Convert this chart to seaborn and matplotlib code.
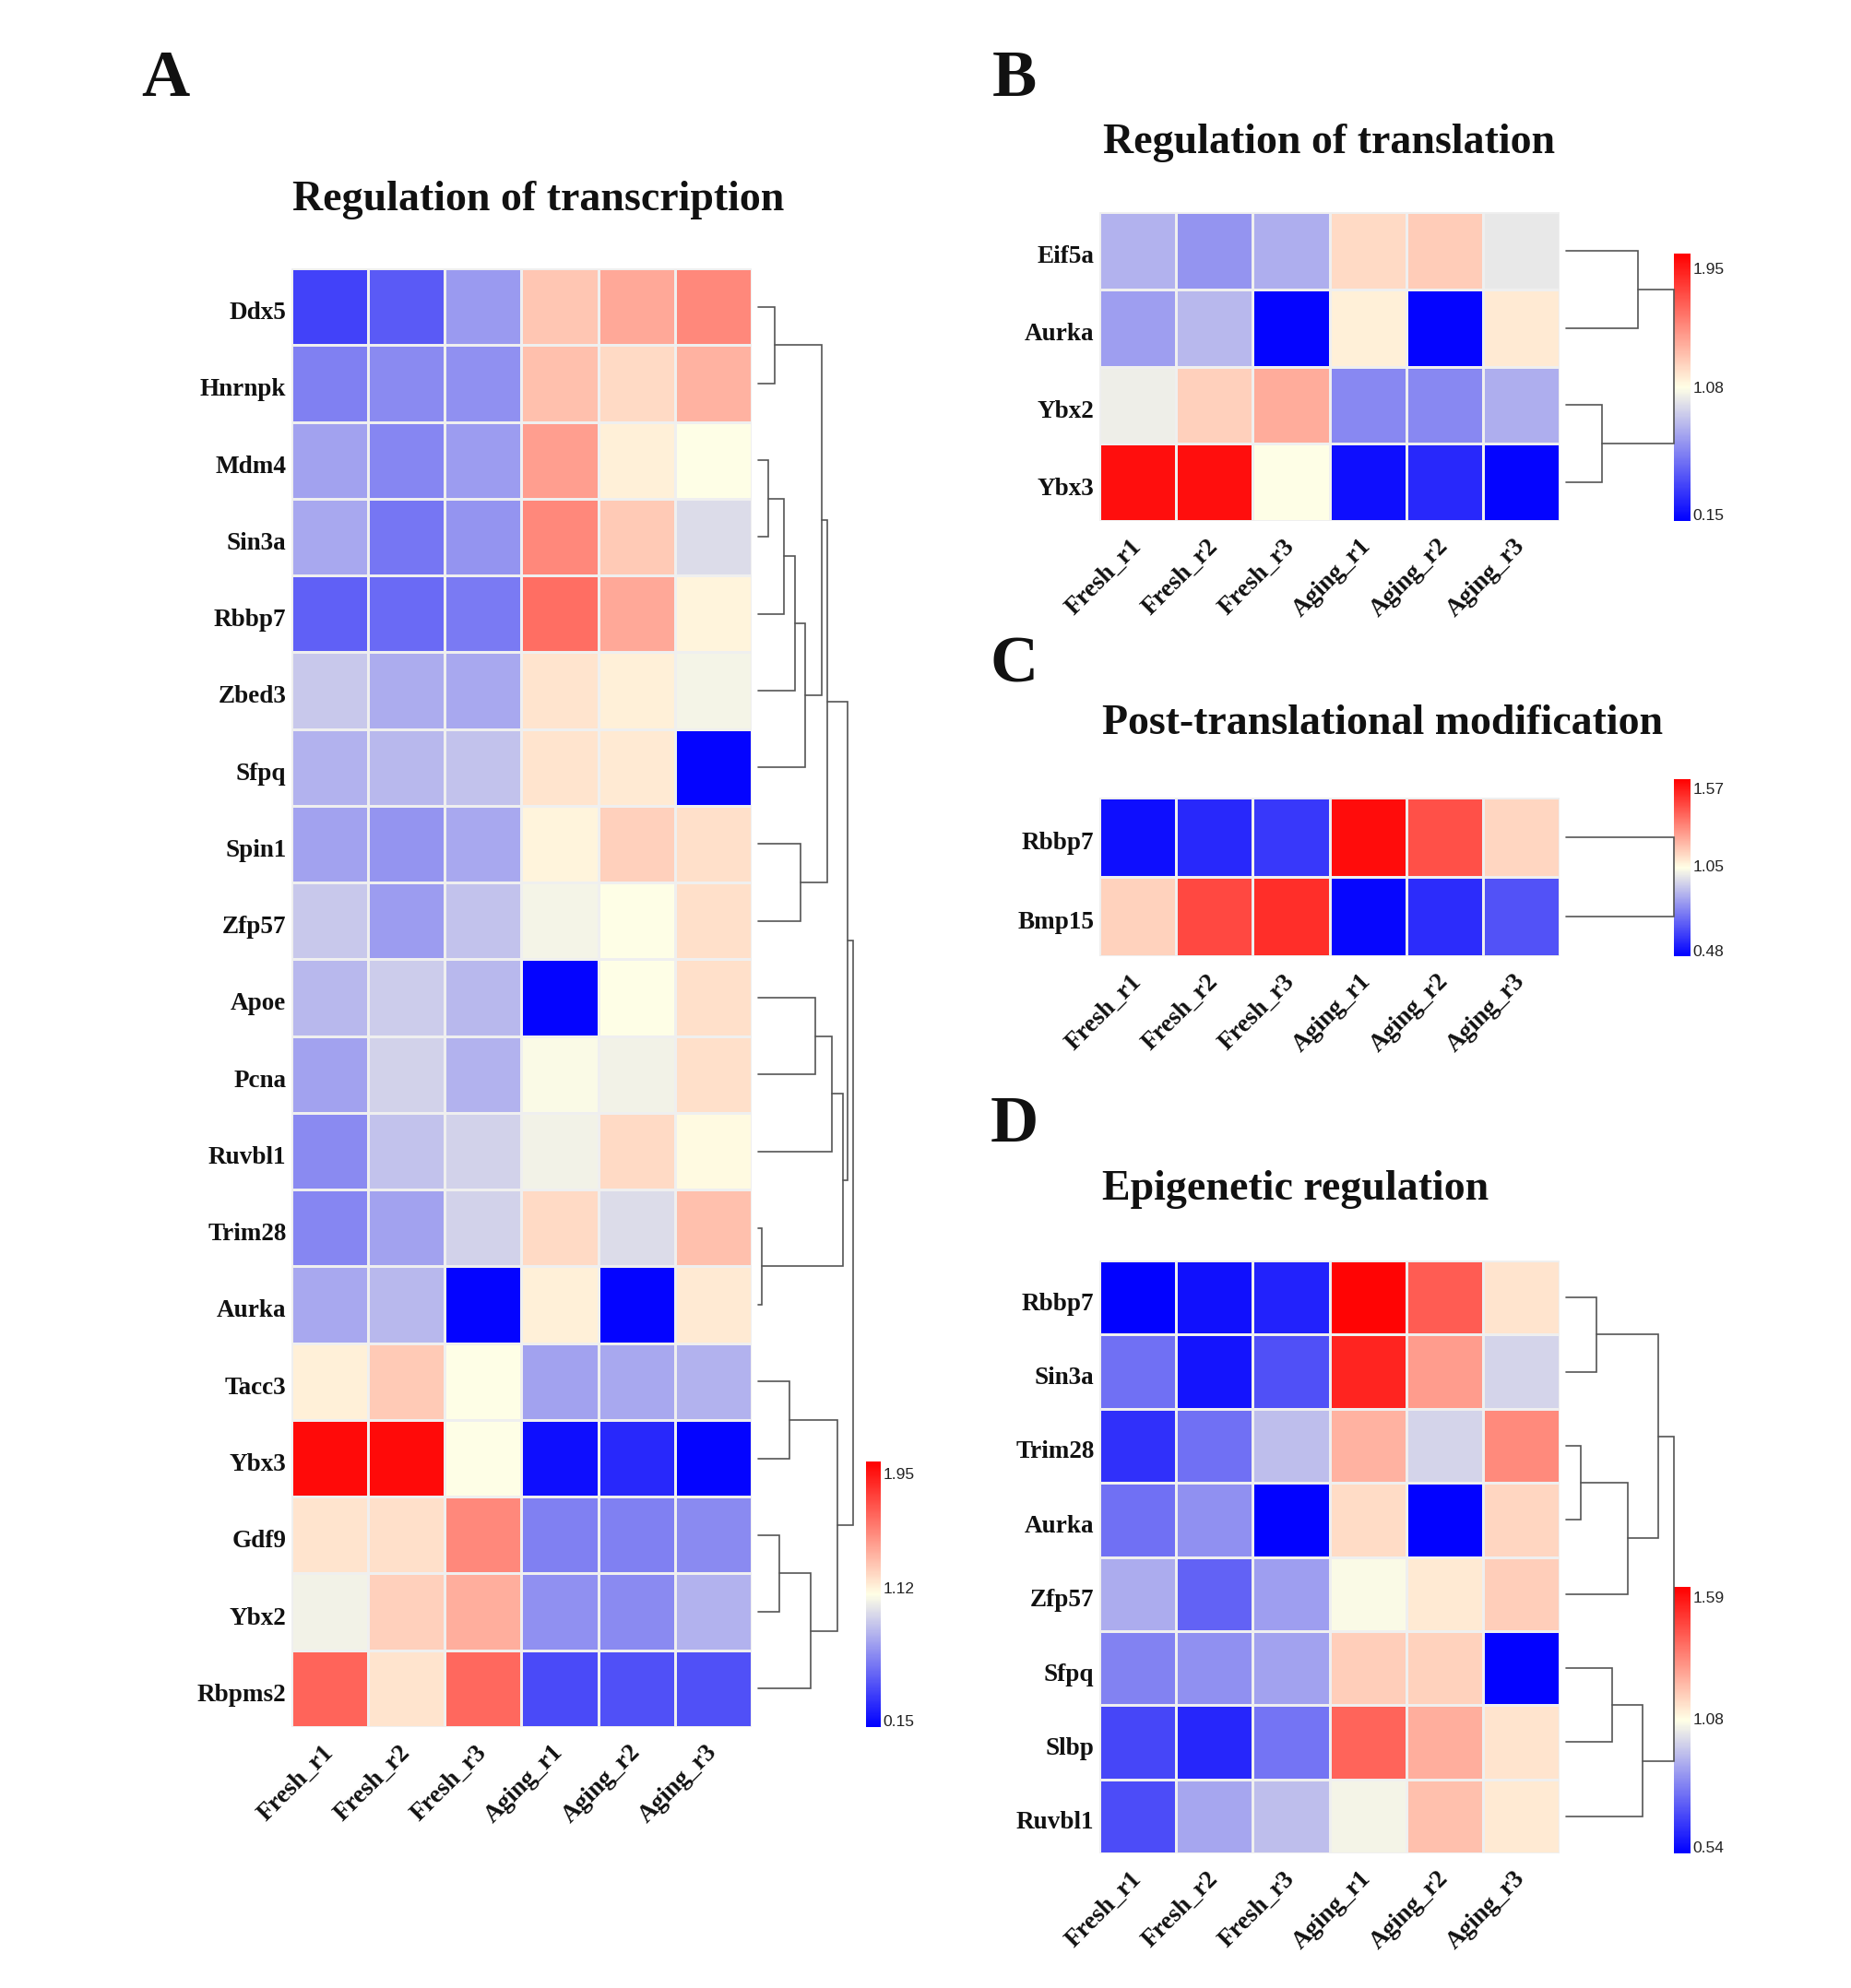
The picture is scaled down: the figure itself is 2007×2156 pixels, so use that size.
import numpy as np
import pandas as pd
import matplotlib
matplotlib.use("Agg")
import matplotlib.pyplot as plt
import matplotlib.transforms as mtransforms
from matplotlib.colors import LinearSegmentedColormap
import seaborn as sns

# ---------------- data ----------------
samples = ["Fresh_r1", "Fresh_r2", "Fresh_r3", "Aging_r1", "Aging_r2", "Aging_r3"]

genes_a = ["Ddx5", "Hnrnpk", "Mdm4", "Sin3a", "Rbbp7", "Zbed3", "Sfpq", "Spin1", "Zfp57",
           "Apoe", "Pcna", "Ruvbl1", "Trim28", "Aurka", "Tacc3", "Ybx3", "Gdf9", "Ybx2", "Rbpms2"]
values_a = [
    [0.36, 0.45, 0.69, 1.29, 1.40, 1.52],
    [0.59, 0.63, 0.65, 1.31, 1.21, 1.36],
    [0.72, 0.61, 0.70, 1.44, 1.13, 1.07],
    [0.74, 0.55, 0.67, 1.52, 1.27, 0.94],
    [0.47, 0.51, 0.57, 1.62, 1.40, 1.11],
    [0.86, 0.76, 0.74, 1.17, 1.13, 1.03],
    [0.78, 0.80, 0.84, 1.17, 1.15, 0.12],
    [0.72, 0.67, 0.74, 1.11, 1.25, 1.19],
    [0.86, 0.70, 0.84, 1.03, 1.07, 1.19],
    [0.80, 0.88, 0.80, 0.12, 1.07, 1.19],
    [0.72, 0.90, 0.78, 1.05, 1.02, 1.19],
    [0.63, 0.84, 0.90, 1.02, 1.21, 1.09],
    [0.61, 0.72, 0.90, 1.21, 0.94, 1.31],
    [0.74, 0.80, 0.12, 1.13, 0.12, 1.15],
    [1.13, 1.27, 1.07, 0.72, 0.74, 0.78],
    [2.00, 2.00, 1.07, 0.16, 0.26, 0.12],
    [1.17, 1.19, 1.52, 0.59, 0.59, 0.63],
    [1.02, 1.25, 1.38, 0.65, 0.63, 0.78],
    [1.66, 1.17, 1.64, 0.39, 0.41, 0.41],
]
# linkage: (left, right, height) scipy-style node ids
link_a = [(0, 1, 53), (2, 3, 32), (20, 4, 85), (21, 5, 120), (22, 6, 153), (19, 23, 207),
          (7, 8, 138), (24, 25, 225), (9, 10, 188), (27, 11, 240), (12, 13, 13), (28, 29, 277),
          (26, 30, 292), (14, 15, 103), (16, 17, 68), (33, 18, 172), (32, 34, 260), (31, 35, 310)]
ticks_a = [0.15, 1.12, 1.95]
range_a = (0.103, 2.04)

genes_b = ["Eif5a", "Aurka", "Ybx2", "Ybx3"]
values_b = [
    [0.79, 0.67, 0.77, 1.22, 1.28, 0.99],
    [0.71, 0.81, 0.12, 1.14, 0.12, 1.16],
    [1.02, 1.26, 1.40, 0.63, 0.63, 0.77],
    [2.00, 2.00, 1.08, 0.16, 0.26, 0.12],
]
link_b = [(0, 1, 232), (2, 3, 115), (4, 5, 348)]
ticks_b = [0.15, 1.08, 1.95]
range_b = (0.103, 2.06)

genes_c = ["Rbbp7", "Bmp15"]
values_c = [
    [0.48, 0.54, 0.58, 1.60, 1.44, 1.13],
    [1.14, 1.46, 1.52, 0.46, 0.55, 0.64],
]
link_c = [(0, 1, 345)]
ticks_c = [0.48, 1.05, 1.57]
range_c = (0.446, 1.629)

genes_d = ["Rbbp7", "Sin3a", "Trim28", "Aurka", "Zfp57", "Sfpq", "Slbp", "Ruvbl1"]
values_d = [
    [0.52, 0.55, 0.59, 1.62, 1.43, 1.13],
    [0.76, 0.56, 0.69, 1.55, 1.29, 0.98],
    [0.62, 0.76, 0.93, 1.24, 0.98, 1.33],
    [0.76, 0.83, 0.52, 1.15, 0.52, 1.16],
    [0.89, 0.73, 0.86, 1.06, 1.12, 1.18],
    [0.80, 0.83, 0.87, 1.18, 1.17, 0.52],
    [0.67, 0.60, 0.77, 1.41, 1.25, 1.13],
    [0.68, 0.88, 0.93, 1.05, 1.21, 1.12],
]
link_d = [(0, 1, 98), (2, 3, 47), (9, 4, 197), (8, 10, 295), (5, 6, 147), (12, 7, 245), (11, 13, 345)]
ticks_d = [0.54, 1.08, 1.59]
range_d = (0.513, 1.632)

# ---------------- style ----------------
sns.set_theme(style="white")
plt.rcParams["font.family"] = ["Liberation Serif", "DejaVu Serif"]

W, H = 2008, 2156
DPI = 100
fig = plt.figure(figsize=(W / DPI, H / DPI), dpi=DPI)
fig.patch.set_facecolor("white")

cmap = LinearSegmentedColormap.from_list("bwr_pheat", ["#0000FF", "#FFFFE6", "#FF0000"], N=256)


def ax_px(x0, y0, x1, y1):
    return fig.add_axes([x0 / W, 1 - y1 / H, (x1 - x0) / W, (y1 - y0) / H])


def draw_dendro(ax, links, n):
    pos = {i: (0.0, i + 0.5) for i in range(n)}
    for k, (a, b, h) in enumerate(links):
        xa, ya = pos[a]
        xb, yb = pos[b]
        ax.plot([xa, h, h, xb], [ya, ya, yb, yb], color="#555555", lw=1.2,
                solid_joinstyle="miter", clip_on=False)
        pos[n + k] = (h, (ya + yb) / 2)
    root_h = links[-1][2]
    ax.set_xlim(0, root_h)
    ax.set_ylim(n, 0)
    ax.axis("off")


def panel(values, genes, links, ticks, vrange, box, dbox, cbox):
    df = pd.DataFrame(values, index=genes, columns=samples)
    ax = ax_px(*box)
    cax = ax_px(*cbox)
    sns.heatmap(df, ax=ax, cmap=cmap, vmin=vrange[0], vmax=vrange[1],
                linewidths=1.0, linecolor="#EFEFEF", cbar_ax=cax,
                cbar_kws={"ticks": ticks})
    ax.tick_params(axis="both", length=0, pad=4)
    ax.set_yticklabels(genes, rotation=0, fontsize=19.5, fontweight="bold", color="#111111")
    ax.set_xticklabels(samples, rotation=45, ha="right", va="center",
                       rotation_mode="anchor", fontsize=19.5, fontweight="bold", color="#111111")
    ax.tick_params(axis="x", pad=17)
    shift = mtransforms.ScaledTranslation(0, -5 / 72, fig.dpi_scale_trans)
    for lab in ax.get_yticklabels():
        lab.set_transform(lab.get_transform() + shift)
    ax.set_xlabel("")
    ax.set_ylabel("")
    cb = ax.collections[0].colorbar
    cb.outline.set_visible(False)
    cb.ax.tick_params(length=0, pad=2)
    cb.ax.set_yticklabels([f"{t:.2f}" for t in ticks], fontsize=12.5,
                          family=["Liberation Sans", "DejaVu Sans"], color="#222222")
    dax = ax_px(*dbox)
    draw_dendro(dax, links, len(genes))
    return ax


panel(values_a, genes_a, link_a, ticks_a, range_a,
      (316, 291, 815, 1873), (822, 291, 925, 1873), (939, 1585, 955, 1873))
panel(values_b, genes_b, link_b, ticks_b, range_b,
      (1192, 230, 1691, 565), (1698, 230, 1815, 565), (1815, 275, 1833, 565))
panel(values_c, genes_c, link_c, ticks_c, range_c,
      (1192, 865, 1691, 1037), (1698, 865, 1815, 1037), (1815, 845, 1833, 1037))
panel(values_d, genes_d, link_d, ticks_d, range_d,
      (1192, 1367, 1691, 2010), (1698, 1367, 1815, 2010), (1815, 1721, 1833, 2010))

# titles
title_kw = dict(fontsize=33, fontweight="bold", ha="center", va="center", color="#111111")
fig.text(584 / W, 1 - 217 / H, "Regulation of transcription", **title_kw)
fig.text(1441 / W, 1 - 155 / H, "Regulation of translation", **title_kw)
fig.text(1499 / W, 1 - 785 / H, "Post-translational modification", **title_kw)
fig.text(1405 / W, 1 - 1290 / H, "Epigenetic regulation", **title_kw)

letter_kw = dict(fontsize=52, fontweight="bold", ha="center", va="center", color="#111111")
fig.text(179 / W, 1 - 86 / H, "A", **letter_kw)
fig.text(1100 / W, 1 - 86 / H, "B", **letter_kw)
fig.text(1100 / W, 1 - 722 / H, "C", **letter_kw)
fig.text(1100 / W, 1 - 1221 / H, "D", **letter_kw)

fig.savefig("out.png", dpi=DPI, facecolor="white")
